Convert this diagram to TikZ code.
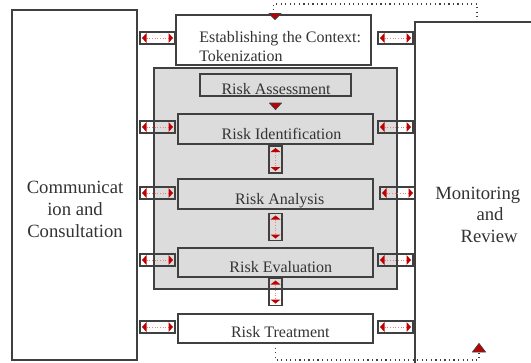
\documentclass[tikz,border=0pt]{standalone}
\usepackage{fontspec}
\setmainfont{Liberation Serif}
\definecolor{boxgray}{HTML}{404040}
\definecolor{txtgray}{HTML}{333333}
\definecolor{arrred}{HTML}{C00000}
\definecolor{pinkdot}{HTML}{F08080}
\definecolor{panel}{HTML}{DCDCDC}
\tikzset{
  box/.style={draw=boxgray, line width=1pt, inner sep=0pt, outer sep=0pt, anchor=north west},
  rect/.style 2 args={minimum width=#1*0.75pt, minimum height=#2*0.75pt},
  lbl/.style={text=txtgray, font=\fontsize{12}{13.9}\selectfont, inner sep=0pt},
  side/.style={text=txtgray, inner sep=0pt},
  dots/.style={draw=boxgray, line width=0.9pt, dash pattern=on 0.9pt off 2.5pt},
  redtri/.style={fill=arrred, draw=boxgray, line width=0.6pt, line join=round},
  hlinkpic/.pic={
    \draw[draw=pinkdot, line width=0.5pt, dash pattern=on 0.8pt off 1.2pt] (-11,0) -- (11,0);
    \fill[arrred] (-15.5,0) -- (-11,-5) -- (-11,5) -- cycle;
    \fill[arrred] (15.5,0) -- (11,-5) -- (11,5) -- cycle;
    \draw[draw=boxgray, line width=1pt] (-17.5,-6) rectangle (17.5,6);
  },
  vlinkpic/.pic={
    \draw[draw=pinkdot, line width=0.5pt, dash pattern=on 0.8pt off 1.2pt] (0,-7.5) -- (0,7.5);
    \fill[arrred] (0,-11.5) -- (-5,-7.5) -- (5,-7.5) -- cycle;
    \fill[arrred] (0,11.5) -- (-5,7.5) -- (5,7.5) -- cycle;
    \draw[draw=boxgray, line width=1pt] (-6.5,-13.5) rectangle (6.5,13.5);
  },
}
\begin{document}
\begin{tikzpicture}[x=0.75pt, y=-0.75pt]
\useasboundingbox (0,0) rectangle (531,362);
% side boxes
\node[box, rect={125}{350}] (comm) at (12,10) {};
\node[box, rect={150}{380}] (mon) at (415,22) {};
% grey panel and process boxes
\node[box, rect={243}{221}, fill=panel] (panel) at (154,68) {};
\node[box, rect={195}{50}, fill=white] (est) at (176,15) {};
\node[box, rect={151}{22}] (assess) at (200,74) {};
\node[box, rect={195}{30}] (ident) at (178,114) {};
\node[box, rect={195}{30}] (anal) at (178,179) {};
\node[box, rect={195}{29}] (eval) at (178,248) {};
\node[box, rect={195}{29}, fill=white] (treat) at (178,314) {};
% texts
\node[lbl, anchor=north west, align=left] (esttxt) at (199,31.2) {Establishing the Context:\\Tokenization};
\node[lbl, anchor=base] (assesstxt) at (276,94) {Risk Assessment};
\node[lbl, anchor=base] (identtxt) at (281.5,139) {Risk Identification};
\node[lbl, anchor=base] (analtxt) at (279.7,204) {Risk Analysis};
\node[lbl, anchor=base] (evaltxt) at (280.8,272) {Risk Evaluation};
\node[lbl, anchor=base] (treattxt) at (280.3,337) {Risk Treatment};
\node[side, anchor=north, align=center, font=\fontsize{14}{16.5}\selectfont] (commtxt) at (75,180.4) {Communicat\\ion and\\Consultation};
\node[side, anchor=north west, align=left, font=\fontsize{14}{16.1}\selectfont] (montxt) at (435,186.6) {Monitoring\\\hspace*{31pt}and\\\hspace*{19pt}Review};
% dotted feedback lines
\coordinate (montop) at (477,21);
\coordinate (monbot) at (479,352);
\draw[dots] (est.north) -- ++(0,-11) -| (montop);
\draw[dots] (treat.south) -- ++(0,17) -| (monbot);
\draw[dots] (assess.north) -- ++(0,-17);
% arrow heads
\path[redtri] (269,13.5) -- (281,13.5) -- (275,19.5) -- cycle;
\path[redtri] (269.5,103) -- (281.5,103) -- (275.5,109.5) -- cycle;
\path[redtri] (472.5,352) -- (485.5,352) -- (479,343.5) -- cycle;
% horizontal links, left
\pic (cl1) at (157.5,38) {hlinkpic};
\pic (cl2) at (157.5,127) {hlinkpic};
\pic (cl3) at (157.5,193) {hlinkpic};
\pic (cl4) at (157.5,260) {hlinkpic};
\pic (cl5) at (157.5,327) {hlinkpic};
% horizontal links, right
\pic (cr1) at (395.5,38) {hlinkpic};
\pic (cr2) at (395.5,127) {hlinkpic};
\pic (cr3) at (397.5,193) {hlinkpic};
\pic (cr4) at (395.5,260) {hlinkpic};
\pic (cr5) at (395.5,327) {hlinkpic};
% vertical links
\pic (v1) at (275.5,159.5) {vlinkpic};
\pic (v2) at (275.5,227) {vlinkpic};
\pic (v3) at (275.5,292) {vlinkpic};
\end{tikzpicture}
\end{document}
